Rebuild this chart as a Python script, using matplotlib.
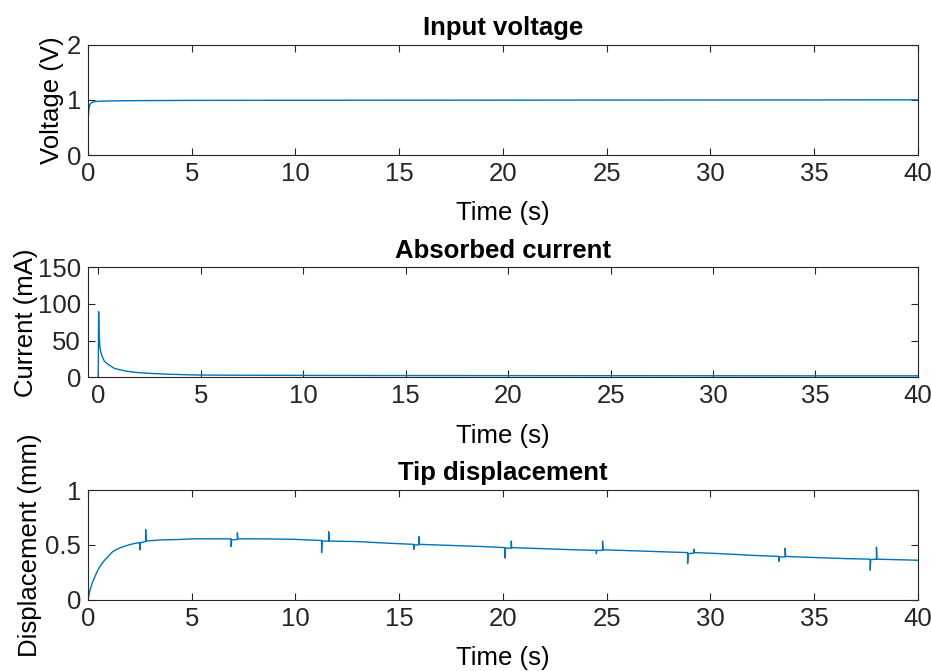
import numpy as np
import matplotlib.pyplot as plt

plt.rcParams.update({
    'font.family': ['Liberation Sans', 'DejaVu Sans'],
    'font.size': 18.5,
    'axes.linewidth': 0.8,
    'axes.edgecolor': '#262626',
    'xtick.color': '#262626',
    'ytick.color': '#262626',
    'xtick.direction': 'in',
    'ytick.direction': 'in',
    'xtick.top': True,
    'ytick.right': True,
    'xtick.major.size': 5,
    'ytick.major.size': 5,
    'xtick.major.width': 0.8,
    'ytick.major.width': 0.8,
})

blue = '#0072BD'

# Input voltage (V)
t_volt = [0.0, 0.05, 0.1, 0.2, 0.3, 0.5, 1.0, 2.0, 5.0, 10.0, 20.0, 30.0, 40.0]
volt = [0.63, 0.85, 0.92, 0.955, 0.965, 0.975, 0.98, 0.985, 0.99, 0.992, 0.995, 0.997, 1.0]

# Absorbed current (mA)
t_curr = [0.0, 0.02, 0.04, 0.08, 0.12, 0.2, 0.3, 0.52, 0.8, 1.33, 1.8, 2.47, 3.5,
          4.9, 7.0, 10.0, 15.0, 20.0, 25.0, 30.0, 35.0, 40.0]
curr = [0.0, 89.5, 60.0, 42.0, 35.0, 28.0, 22.0, 16.8, 12.0, 8.6, 6.8, 5.4, 4.1,
        3.1, 2.8, 2.6, 2.4, 2.3, 2.2, 2.1, 2.0, 2.0]

# Tip displacement (mm), with glitches from the sensor
t_disp = [0.0, 0.1, 0.2, 0.4, 0.56, 0.8, 1.0, 1.2, 1.5, 1.8, 2.17, 2.45,
          2.5, 2.5, 2.52, 2.76, 2.78, 2.78, 2.8,
          3.5, 4.5, 5.0, 6.0, 6.88,
          6.9, 6.9, 6.92, 7.18, 7.2, 7.2, 7.22,
          8.5, 10.0, 11.24,
          11.26, 11.26, 11.28, 11.58, 11.6, 11.6, 11.62,
          13.0, 14.5, 15.68,
          15.7, 15.7, 15.72, 15.93, 15.95, 15.95, 15.97,
          17.5, 19.0, 20.08,
          20.1, 20.1, 20.12, 20.38, 20.4, 20.4, 20.42,
          22.0, 23.5, 24.48,
          24.5, 24.5, 24.52, 24.78, 24.8, 24.8, 24.82,
          26.5, 28.0, 28.88,
          28.9, 28.9, 28.92, 29.18, 29.2, 29.2, 29.22,
          30.5, 32.0, 33.28,
          33.3, 33.3, 33.32, 33.58, 33.6, 33.6, 33.62,
          35.0, 36.5, 37.68,
          37.7, 37.7, 37.72, 37.98, 38.0, 38.0, 38.02,
          39.0, 40.0]
disp = [0.0, 0.09, 0.15, 0.24, 0.30, 0.36, 0.40, 0.44, 0.47, 0.49, 0.51, 0.52,
        0.52, 0.455, 0.52, 0.53, 0.53, 0.64, 0.535,
        0.545, 0.55, 0.555, 0.555, 0.555,
        0.555, 0.485, 0.545, 0.55, 0.55, 0.61, 0.555,
        0.555, 0.55, 0.54,
        0.54, 0.43, 0.535, 0.535, 0.535, 0.62, 0.535,
        0.53, 0.515, 0.505,
        0.505, 0.46, 0.5, 0.5, 0.5, 0.575, 0.505,
        0.495, 0.485, 0.475,
        0.475, 0.38, 0.47, 0.47, 0.47, 0.535, 0.475,
        0.465, 0.455, 0.45,
        0.45, 0.42, 0.45, 0.45, 0.45, 0.535, 0.455,
        0.445, 0.435, 0.43,
        0.43, 0.33, 0.42, 0.425, 0.425, 0.46, 0.43,
        0.42, 0.405, 0.395,
        0.395, 0.35, 0.39, 0.39, 0.39, 0.47, 0.395,
        0.385, 0.375, 0.37,
        0.37, 0.27, 0.365, 0.37, 0.37, 0.48, 0.37,
        0.365, 0.36]

fig = plt.figure(figsize=(9.31, 6.71), dpi=100)
ax1 = fig.add_axes([0.0945, 0.769, 0.8915, 0.1644])
ax2 = fig.add_axes([0.0945, 0.4377, 0.8915, 0.1639])
ax3 = fig.add_axes([0.0945, 0.1062, 0.8915, 0.1635])

ax1.plot(t_volt, volt, color=blue, lw=1.0)
ax1.set_xlim(0, 40)
ax1.set_ylim(0, 2)
ax1.set_yticks([0, 1, 2])
ax1.set_title('Input voltage', fontweight='bold', fontsize=18.5, pad=7)
ax1.set_ylabel('Voltage (V)', labelpad=2)

ax2.plot(t_curr, curr, color=blue, lw=1.0)
ax2.set_xlim(-0.5, 40)
ax2.set_ylim(0, 150)
ax2.set_yticks([0, 50, 100, 150])
ax2.set_title('Absorbed current', fontweight='bold', fontsize=18.5, pad=7)
ax2.set_ylabel('Current (mA)', labelpad=0)

ax3.plot(t_disp, disp, color=blue, lw=1.0)
ax3.set_xlim(0, 40)
ax3.set_ylim(0, 1)
ax3.set_yticks([0, 0.5, 1])
ax3.set_yticklabels(['0', '0.5', '1'])
ax3.set_title('Tip displacement', fontweight='bold', fontsize=18.5, pad=7)
ax3.set_ylabel('Displacement (mm)', labelpad=2)

for ax in (ax1, ax2, ax3):
    ax.set_xticks(range(0, 41, 5))
    ax.set_xlabel('Time (s)', labelpad=11)
    ax.tick_params(labelsize=18.5, pad=5)

fig.savefig('out.png', dpi=100)
